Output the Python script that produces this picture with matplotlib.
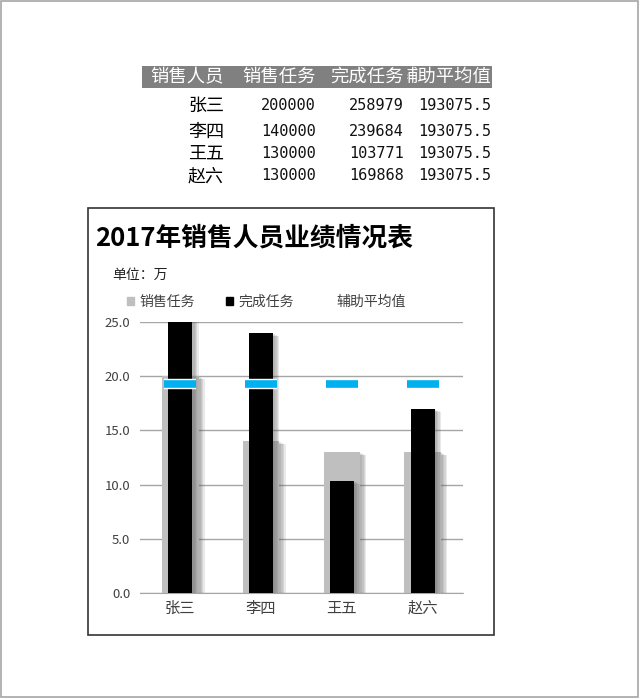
import matplotlib
matplotlib.use("Agg")
import matplotlib.pyplot as plt
import matplotlib.patheffects as pe
from matplotlib.patches import Rectangle, Patch
from matplotlib.lines import Line2D
from matplotlib.transforms import Bbox, TransformedBbox, IdentityTransform
import numpy as np

plt.rcParams['font.family'] = ['Noto Sans CJK SC', 'DejaVu Sans']

# data from the sheet
headers = ['销售人员', '销售任务', '完成任务', '辅助平均值']
names = ['张三', '李四', '王五', '赵六']
task = [200000, 140000, 130000, 130000]
done = [258979, 239684, 103771, 169868]
avg = [193075.5, 193075.5, 193075.5, 193075.5]

title = '2017年销售人员业绩情况表'
unit = '单位：万'

W, H = 640, 699
fig = plt.figure(figsize=(W / 100, H / 100), dpi=100)

# background layer in pixel coords for the sheet table and frames
bg = fig.add_axes([0, 0, 1, 1], zorder=0)
bg.set_xlim(0, W)
bg.set_ylim(H, 0)
bg.axis('off')

bg.add_patch(Rectangle((1, 1), W - 3, H - 3, fill=False, ec='#A6A6A6', lw=1.2))

# --- sheet table ---
bg.add_patch(Rectangle((142, 66), 350, 22, color='#808080', lw=0))
col_right = [224, 316, 404, 491]
row_y = [106, 132, 154, 176]
# last header cell is too narrow, excel cuts the text at the cell edge
cell_clip = TransformedBbox(Bbox.from_extents(407, H - 92, 493, H - 60),
                            IdentityTransform())
for i, h in enumerate(headers):
    t = bg.text(col_right[i], 77, h, color='white', fontsize=13.2,
                ha='right', va='center')
    if i == 3:
        t.set_clip_box(cell_clip)
        t.set_clip_on(True)
for r, nm in enumerate(names):
    bg.text(col_right[0], row_y[r], nm, fontsize=13, ha='right', va='center',
            color='black')
    cells = [str(task[r]), str(done[r]), str(avg[r])]
    for c, v in enumerate(cells):
        bg.text(col_right[c + 1], row_y[r], v, fontsize=11, ha='right',
                va='center', family='DejaVu Sans Mono', color='#111111')

# --- chart frame and texts ---
bg.add_patch(Rectangle((88, 208), 406, 427, fill=False, ec='#333333', lw=1.2))
bg.text(95, 238, title, fontsize=18.5, fontweight='bold', ha='left',
        va='center', color='black')
bg.text(112, 275, unit, fontsize=10, ha='left', va='center', color='#222222')

# --- chart ---
ax = fig.add_axes([140 / W, (H - 593) / H, (463 - 140) / W, (593 - 322) / H],
                  zorder=1)
ax.patch.set_alpha(0)
x = np.arange(len(names))
task_w = np.array(task) / 10000
done_w = np.array(done) / 10000
avg_w = np.array(avg) / 10000

# soft shadow: a few stacked faint offsets
shadow = [pe.SimplePatchShadow(offset=(d, -d * 0.5), shadow_rgbFace='#555555',
                               alpha=0.13) for d in (4.5, 3.5, 2.5, 1.5)]
shadow.append(pe.Normal())
ax.bar(x, task_w, width=0.45, color='#BFBFBF', zorder=2, path_effects=shadow)
ax.bar(x, done_w, width=0.30, color='black', zorder=3, path_effects=shadow)
ax.plot(x, avg_w, ls='none', marker='_', ms=23, mew=5.5, color='#00B0F0',
        zorder=4,
        path_effects=[pe.Stroke(linewidth=7.5, foreground='white'), pe.Normal()])

ax.set_xlim(-0.5, len(names) - 0.5)
ax.set_ylim(0, 25)
ax.set_yticks(np.arange(0, 26, 5))
ax.set_yticklabels([f'{v:.1f}' for v in np.arange(0, 26, 5)])
ax.set_xticks(x)
ax.set_xticklabels(names)
ax.yaxis.grid(True, color='#A6A6A6', lw=1)
ax.set_axisbelow(True)
for s in ['left', 'right', 'top']:
    ax.spines[s].set_visible(False)
ax.spines['bottom'].set_color('#A6A6A6')
ax.tick_params(axis='y', length=0, pad=7, labelsize=9.5, labelcolor='#404040')
ax.tick_params(axis='x', length=0, pad=5, labelsize=11, labelcolor='#404040')

handles = [Patch(color='#BFBFBF'), Patch(color='black'),
           Line2D([], [], color='none')]
fig.legend(handles, ['销售任务', '完成任务', '辅助平均值'], ncol=3,
           loc='center left', bbox_to_anchor=(127 / W, 1 - 302 / H),
           frameon=False, fontsize=10, labelcolor='#404040',
           handlelength=0.5, handleheight=0.5, handletextpad=0.4,
           columnspacing=2.2, borderpad=0, borderaxespad=0)

fig.savefig('out.png', dpi=100)
